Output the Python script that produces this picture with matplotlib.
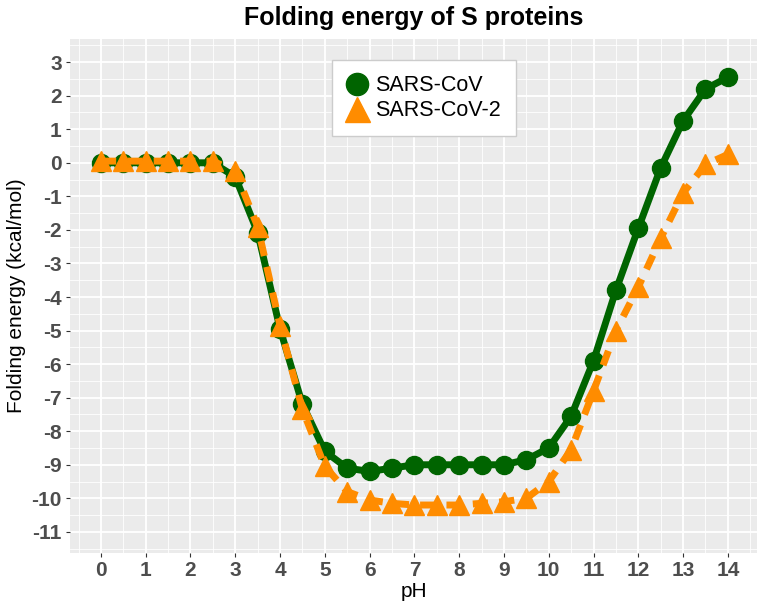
import matplotlib
matplotlib.use("Agg")
import matplotlib.pyplot as plt
from matplotlib.lines import Line2D
import numpy as np

# pH values and folding energies (kcal/mol)
ph = [0, 0.5, 1, 1.5, 2, 2.5, 3, 3.5, 4, 4.5, 5, 5.5, 6, 6.5, 7, 7.5, 8, 8.5, 9, 9.5,
      10, 10.5, 11, 11.5, 12, 12.5, 13, 13.5, 14]
sars_cov = [0, 0, 0, 0, 0, 0, -0.42, -2.08, -4.95, -7.2, -8.6, -9.1, -9.2, -9.1, -9.0,
            -9.0, -9.0, -9.0, -9.0, -8.85, -8.5, -7.55, -5.9, -3.8, -1.95, -0.15, 1.25,
            2.2, 2.55]
sars_cov2 = [0.05, 0.05, 0.05, 0.05, 0.05, 0.05, -0.25, -1.9, -4.85, -7.35, -9.05, -9.8,
             -10.05, -10.15, -10.2, -10.2, -10.2, -10.15, -10.1, -10.0, -9.5, -8.55, -6.8,
             -5.0, -3.7, -2.25, -0.9, -0.05, 0.25]
x_ticks = list(range(0, 15))
y_ticks = list(range(-11, 4))

plt.rcParams['font.family'] = ['Liberation Sans', 'DejaVu Sans']
plt.rcParams['axes.unicode_minus'] = False

green = '#006400'
orange = '#FF8C00'

fig = plt.figure(figsize=(7.65, 6.14), dpi=100)
ax = fig.add_axes([70 / 765, 1 - 553 / 614, 687 / 765, 514 / 614])
ax.set_facecolor('#EBEBEB')

ax.plot(ph, sars_cov, color=green, lw=5, marker='o', markersize=13, zorder=3)
ax.plot(ph, sars_cov2, color=orange, lw=5, ls=(0, (2.2, 1.6)), marker='^',
        markersize=15, zorder=4)

ax.set_xlim(-0.69, 14.65)
ax.set_ylim(-11.63, 3.69)
ax.set_xticks(x_ticks)
ax.set_yticks(y_ticks)
ax.set_xticks(np.arange(-0.5, 14.6, 0.5), minor=True)
ax.set_yticks(np.arange(-11.5, 3.6, 0.5), minor=True)
ax.grid(which='major', color='white', lw=1.3)
ax.grid(which='minor', color='white', lw=0.6)
ax.set_axisbelow(True)
for s in ax.spines.values():
    s.set_visible(False)

ax.tick_params(which='major', length=3, color='#333333', labelsize=15,
               labelcolor='#4D4D4D', pad=3)
ax.tick_params(which='minor', length=0)
for lab in ax.get_xticklabels() + ax.get_yticklabels():
    lab.set_fontweight('bold')

ax.set_xlabel('pH', fontsize=15, labelpad=1)
ax.set_ylabel('Folding energy (kcal/mol)', fontsize=15, labelpad=4)
ax.set_title('Folding energy of S proteins', fontsize=18, fontweight='bold', pad=10)

handles = [Line2D([], [], ls='none', marker='o', color=green, markersize=16),
           Line2D([], [], ls='none', marker='^', color=orange, markersize=18)]
leg = ax.legend(handles, ['SARS-CoV', 'SARS-CoV-2'], loc='upper left',
                bbox_to_anchor=(262 / 687, 493 / 514), borderaxespad=0,
                fontsize=15.5, frameon=True, fancybox=False, edgecolor='#CCCCCC',
                framealpha=1, handlelength=0.9, handletextpad=0.4, borderpad=0.7,
                labelspacing=0.2)

fig.savefig('out.png', dpi=100)
